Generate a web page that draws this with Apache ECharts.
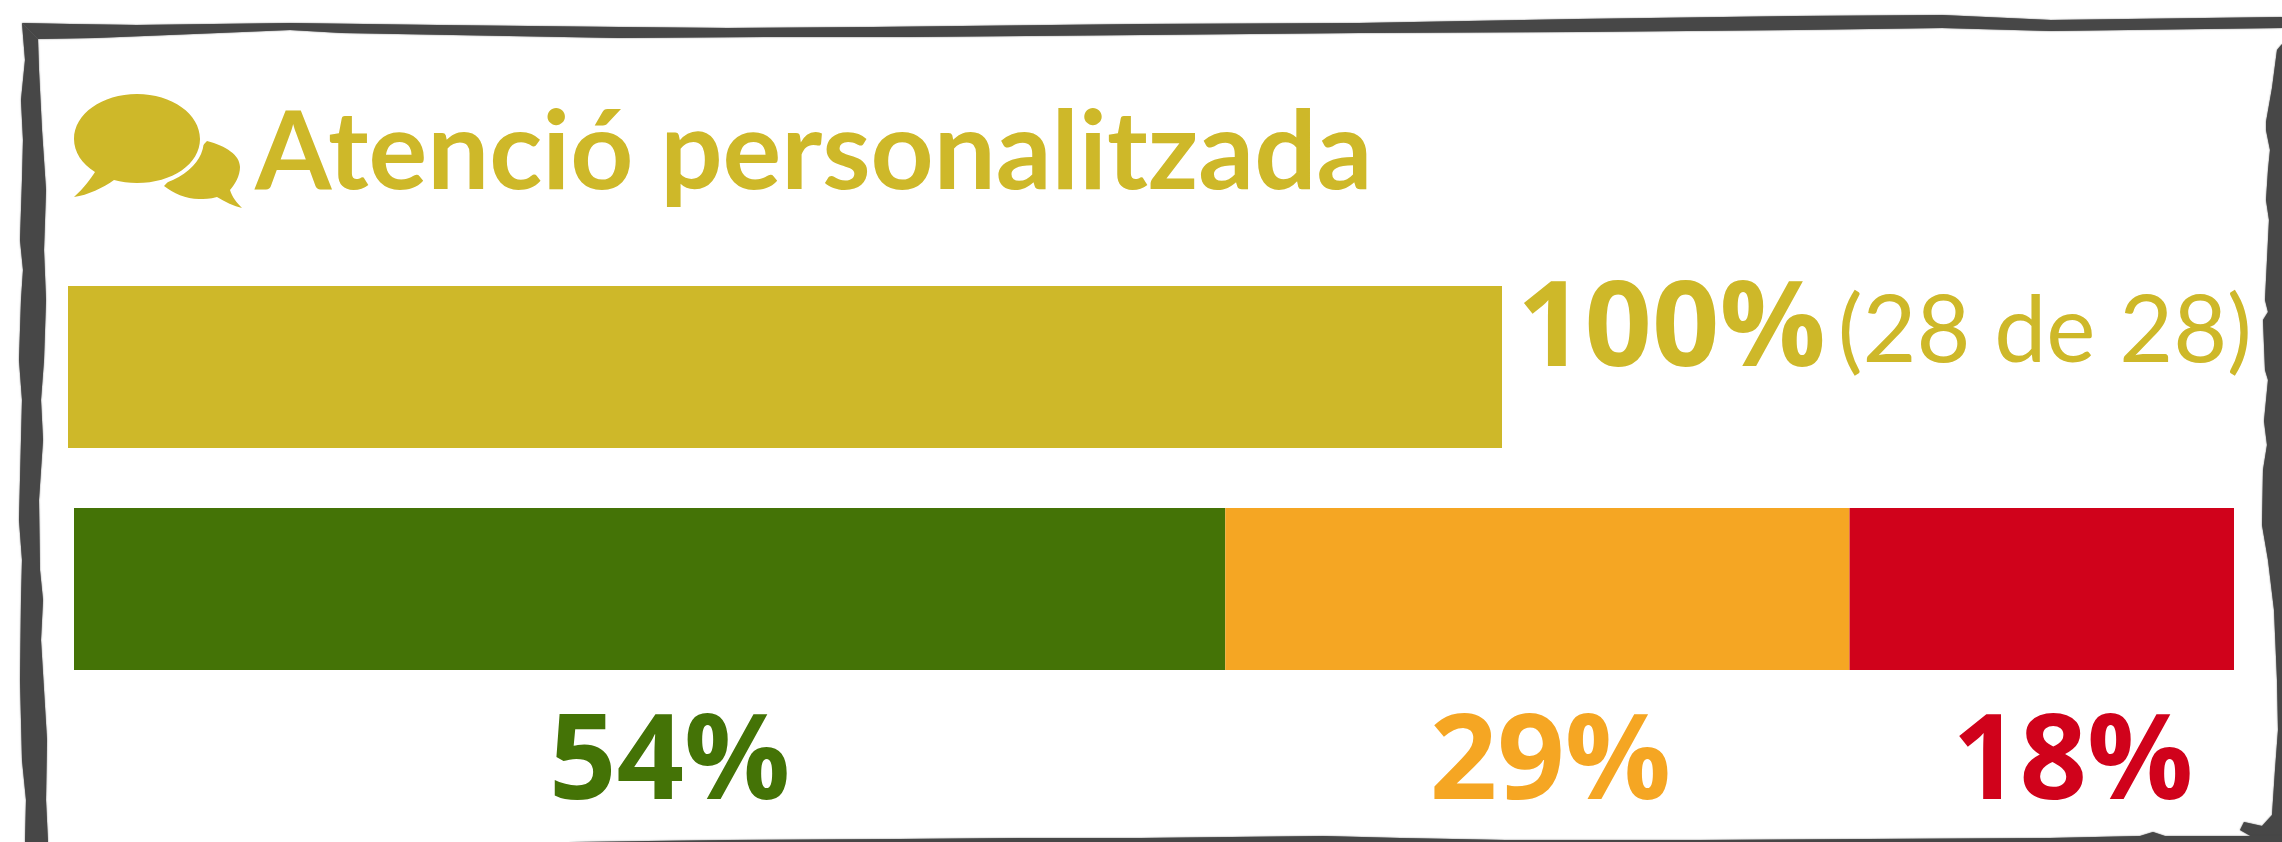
<!DOCTYPE html>
<html>
<head>
<meta charset="utf-8">
<title>Atenció personalitzada</title>
<script src="https://cdn.jsdelivr.net/npm/echarts@6/dist/echarts.min.js"></script>
<style>
html, body { margin: 0; padding: 0; background: #fff; }
#main { width: 2282px; height: 842px; }
</style>
</head>
<body>
<div id="main"></div>
<script>
const titleText = 'Atenció personalitzada'
const coverageCategories = ['Cobertura']
const coverageValues = [100]
const coverageLabel = '100%'
const coverageDetail = '(28 de 28)'
const resultCategories = ['Resultat']
const greenValues = [53.3]
const orangeValues = [28.9]
const redValues = [17.8]
const resultLabels = ['54%', '29%', '18%']

const GOLD = '#CEB829'
const GREEN = '#447306'
const ORANGE = '#F5A623'
const RED = '#D0021B'
const FRAME = '#474747'
const NUM_FONT = 'Open Sans'

// marc fet a ma: cada costat es un poligon irregular
const frameEdges = [
  [[22,23],[70,24],[137,25],[290,23],[437,25],[619,27],[728,28],[873,27],[1141,24],[1359,23],[1578,19],[1796,16],[1942,15],[2051,20],[2282,17],
   [2282,28],[2051,31],[1942,28],[1796,30],[1578,32],[1359,33],[1141,35],[910,37],[764,37],[619,38],[509,36],[342,33],[290,30],[218,33],[95,38],[38,39]],
  [[22,23],[25,60],[21,100],[23,140],[22,180],[20,240],[23,270],[21,300],[19,360],[22,400],[21,440],[19,520],[22,560],[21,600],[20,680],[22,760],[26,800],[25,842],
   [48,842],[46,800],[47,740],[44,690],[41,640],[43,600],[40,570],[39,500],[43,440],[41,400],[44,360],[46,300],[44,250],[46,190],[42,130],[39,70],[38,39]],
  [[2282,44],[2277,50],[2272,88],[2266,122],[2266,130],[2270,150],[2268,170],[2266,200],[2269,220],[2268,240],[2265,300],[2268,312],[2263,320],[2265,370],[2268,380],[2264,421],[2267,445],[2263,470],[2262,525],[2268,560],[2274,610],[2277,680],[2278,730],[2275,770],[2272,815],[2262,826],[2244,822],[2240,830],[2254,838],[2282,842]],
  [[568,842],[728,840],[900,839],[1019,838],[1141,838],[1232,837],[1323,836],[1400,838],[1505,840],[1700,840],[1869,839],[2050,838],[2140,836],[2153,832],[2165,836],[2240,836],[2282,836],[2282,842]]
]

const frameGraphics = frameEdges.map(function (pts) {
  return {
    type: 'polygon',
    silent: true,
    shape: { points: pts },
    style: { fill: FRAME, shadowBlur: 1.5, shadowColor: FRAME }
  }
})

// icona de les dues bafarades
echarts.graphic.registerShape('smallBubble', echarts.graphic.extendPath(
  'M207 141 C226 146 240 155 240 167 C240 176 235 184 230 190 C232 197 237 203 242 208 C234 206 225 202 217 197 C210 199 204 199 199 199 C186 199 173 193 164 186 Z', {}))
echarts.graphic.registerShape('bigBubble', echarts.graphic.extendPath(
  'M137 94 C172 94 200 114 200 139 C200 164 172 183 137 183 C129 183 121 182 114 180 C103 188 88 195 74 197 C84 188 91 178 95 172 C82 164 74 152 74 139 C74 114 102 94 137 94 Z', {}))

const iconGraphics = [
  { type: 'smallBubble', silent: true, style: { fill: GOLD } },
  { type: 'bigBubble', silent: true, style: { fill: '#fff', stroke: '#fff', lineWidth: 8 } },
  { type: 'bigBubble', silent: true, style: { fill: GOLD } }
]

// etiquetes de baix, desplacades respecte al centre del tram com a l'original
function resultLabel(text, color, dx) {
  return {
    show: true,
    position: 'bottom',
    distance: 36,
    offset: [dx, 0],
    formatter: text,
    color: color,
    fontFamily: NUM_FONT,
    fontWeight: 700,
    fontSize: 118,
    lineHeight: 118
  }
}

let myChart = echarts.init(document.getElementById('main'))
myChart.setOption({
  animation: false,
  backgroundColor: '#fff',
  title: {
    text: titleText,
    left: 255,
    top: 89,
    padding: 0,
    textStyle: { color: GOLD, fontFamily: 'Lato', fontWeight: 700, fontSize: 110, lineHeight: 130 }
  },
  grid: [
    { left: 68, top: 286, width: 1434, height: 162 },
    { left: 74, top: 508, width: 2160, height: 162 }
  ],
  xAxis: [
    { gridIndex: 0, type: 'value', min: 0, max: 100, show: false },
    { gridIndex: 1, type: 'value', min: 0, max: 100, show: false }
  ],
  yAxis: [
    { gridIndex: 0, type: 'category', data: coverageCategories, show: false },
    { gridIndex: 1, type: 'category', data: resultCategories, show: false }
  ],
  series: [
    {
      name: 'Cobertura',
      type: 'bar',
      xAxisIndex: 0,
      yAxisIndex: 0,
      barWidth: '100%',
      data: coverageValues,
      itemStyle: { color: GOLD },
      label: {
        show: true,
        position: 'right',
        distance: 15,
        offset: [0, -35],
        formatter: '{a|' + coverageLabel + '}{b|' + coverageDetail + '}',
        rich: {
          a: { color: GOLD, fontFamily: NUM_FONT, fontWeight: 700, fontSize: 118 },
          b: { color: GOLD, fontFamily: 'Lato', fontWeight: 400, fontSize: 93, padding: [0, 0, 0, 12] }
        }
      }
    },
    {
      name: 'Verd',
      type: 'bar',
      stack: 'resultat',
      xAxisIndex: 1,
      yAxisIndex: 1,
      barWidth: '100%',
      data: greenValues,
      itemStyle: { color: GREEN },
      label: resultLabel(resultLabels[0], GREEN, 20)
    },
    {
      name: 'Taronja',
      type: 'bar',
      stack: 'resultat',
      xAxisIndex: 1,
      yAxisIndex: 1,
      barWidth: '100%',
      data: orangeValues,
      itemStyle: { color: ORANGE },
      label: resultLabel(resultLabels[1], ORANGE, 13)
    },
    {
      name: 'Vermell',
      type: 'bar',
      stack: 'resultat',
      xAxisIndex: 1,
      yAxisIndex: 1,
      barWidth: '100%',
      data: redValues,
      itemStyle: { color: RED },
      label: resultLabel(resultLabels[2], RED, 31)
    }
  ],
  graphic: frameGraphics.concat(iconGraphics)
})
</script>
</body>
</html>
